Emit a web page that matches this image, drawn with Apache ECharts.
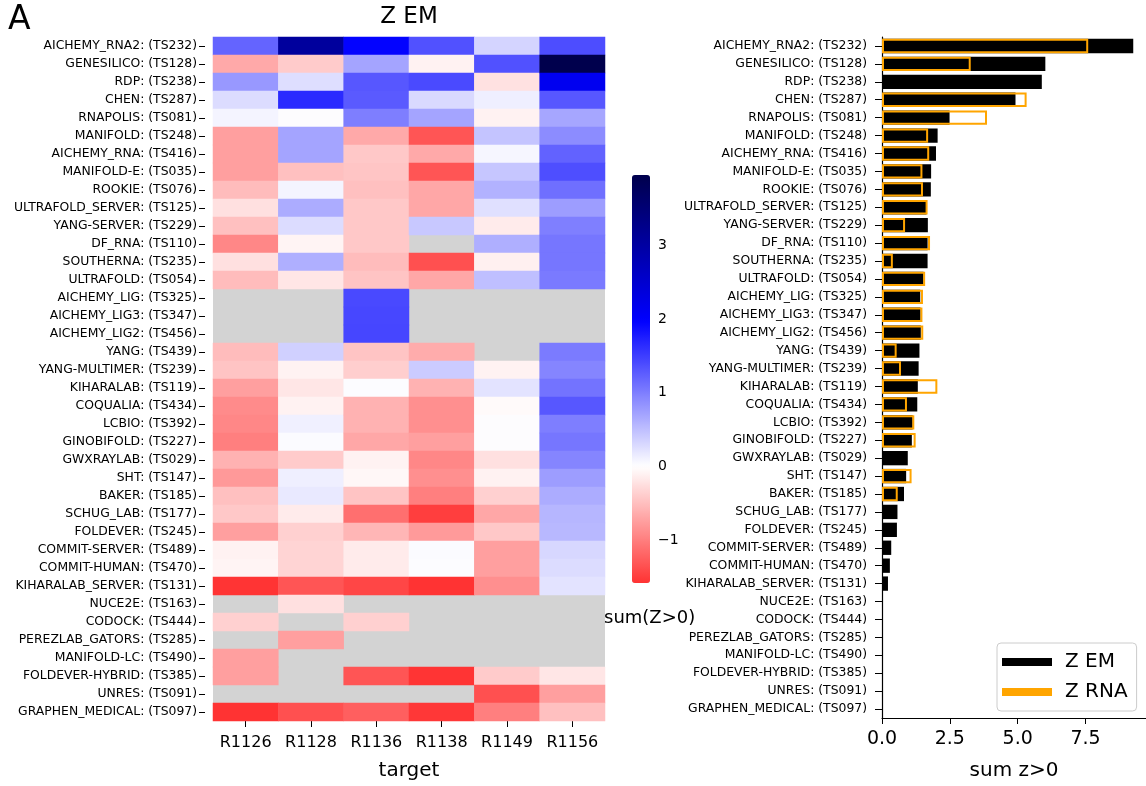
<!DOCTYPE html>
<html>
<head>
<meta charset="utf-8">
<script src="https://cdn.jsdelivr.net/npm/echarts@6/dist/echarts.min.js"></script>
<style>
  html, body { margin: 0; padding: 0; background: #fff; }
  #chart { width: 1146px; height: 786px; }
</style>
</head>
<body>
<div id="chart"></div>
<script>
const teams = [
  'AICHEMY_RNA2: (TS232)', 'GENESILICO: (TS128)', 'RDP: (TS238)', 'CHEN: (TS287)',
  'RNAPOLIS: (TS081)', 'MANIFOLD: (TS248)', 'AICHEMY_RNA: (TS416)', 'MANIFOLD-E: (TS035)',
  'ROOKIE: (TS076)', 'ULTRAFOLD_SERVER: (TS125)', 'YANG-SERVER: (TS229)', 'DF_RNA: (TS110)',
  'SOUTHERNA: (TS235)', 'ULTRAFOLD: (TS054)', 'AICHEMY_LIG: (TS325)', 'AICHEMY_LIG3: (TS347)',
  'AICHEMY_LIG2: (TS456)', 'YANG: (TS439)', 'YANG-MULTIMER: (TS239)', 'KIHARALAB: (TS119)',
  'COQUALIA: (TS434)', 'LCBIO: (TS392)', 'GINOBIFOLD: (TS227)', 'GWXRAYLAB: (TS029)',
  'SHT: (TS147)', 'BAKER: (TS185)', 'SCHUG_LAB: (TS177)', 'FOLDEVER: (TS245)',
  'COMMIT-SERVER: (TS489)', 'COMMIT-HUMAN: (TS470)', 'KIHARALAB_SERVER: (TS131)', 'NUCE2E: (TS163)',
  'CODOCK: (TS444)', 'PEREZLAB_GATORS: (TS285)', 'MANIFOLD-LC: (TS490)', 'FOLDEVER-HYBRID: (TS385)',
  'UNRES: (TS091)', 'GRAPHEN_MEDICAL: (TS097)'
];
const targets = ['R1126', 'R1128', 'R1136', 'R1138', 'R1149', 'R1156'];

// Z EM per target, one value per team (null = no model)
const zR1126 = [1.2, -0.66, 0.8, 0.27, 0.09, -0.74, -0.74, -0.74, -0.52, -0.24, -0.49, -0.93, -0.24, -0.52,
  null, null, null, -0.52, -0.46, -0.74, -0.9, -0.93, -0.99, -0.6, -0.79, -0.49, -0.43, -0.74, -0.1, -0.09,
  -1.57, null, -0.36, null, -0.74, -0.74, null, -1.58];
const zR1128 = [3.05, -0.4, 0.25, 1.65, 0.01, 0.7, 0.7, -0.49, 0.09, 0.64, 0.27, -0.09, 0.62, -0.2,
  null, null, null, 0.36, -0.1, -0.2, -0.1, 0.12, 0.03, -0.4, 0.13, 0.17, -0.16, -0.36, -0.33, -0.33,
  -1.32, -0.24, null, -0.74, null, null, null, -1.36];
const zR1136 = [1.95, 0.7, 1.3, 1.28, 1.0, -0.66, -0.43, -0.45, -0.49, -0.43, -0.43, -0.43, -0.52, -0.46,
  1.41, 1.42, 1.43, -0.46, -0.38, 0.02, -0.6, -0.6, -0.68, -0.1, -0.06, -0.46, -1.11, -0.57, -0.16, -0.16,
  -1.43, null, -0.36, null, null, -1.32, null, -1.24];
const zR1138 = [1.35, -0.1, 1.4, 0.29, 0.7, -1.32, -0.66, -1.32, -0.68, -0.68, 0.43, null, -1.36, -0.68,
  null, null, null, -0.64, 0.4, -0.6, -0.87, -0.87, -0.74, -0.93, -0.87, -0.99, -1.49, -0.78, 0.03, 0.02,
  -1.58, null, null, null, null, -1.57, null, -1.55];
const zR1149 = [0.33, 1.35, -0.23, 0.13, -0.1, 0.46, 0.07, 0.44, 0.6, 0.24, -0.16, 0.62, -0.12, 0.5,
  null, null, null, null, -0.1, 0.22, -0.04, 0.01, 0.01, -0.24, -0.1, -0.36, -0.68, -0.43, -0.74, -0.74,
  -0.87, null, null, null, null, -0.4, -1.36, -0.99];
const zR1156 = [1.38, 3.95, 2.14, 1.3, 0.69, 0.89, 1.22, 1.37, 1.11, 0.76, 0.99, 1.06, 1.06, 1.03,
  null, null, null, 1.02, 0.95, 1.08, 1.3, 1.0, 1.06, 0.95, 0.76, 0.64, 0.57, 0.55, 0.31, 0.27,
  0.22, null, null, null, null, -0.2, -0.74, -0.49];

const sumZEM = [9.26, 6.02, 5.89, 4.92, 2.49, 2.05, 1.99, 1.81, 1.80, 1.64, 1.69, 1.68, 1.68, 1.53,
  1.41, 1.42, 1.43, 1.38, 1.35, 1.32, 1.30, 1.13, 1.10, 0.95, 0.89, 0.81, 0.57, 0.55, 0.34, 0.29,
  0.22, 0, 0, 0, 0, 0, 0, 0];
const sumZRNA = [7.6, 3.27, null, 5.33, 3.87, 1.70, 1.74, 1.49, 1.51, 1.68, 0.85, 1.77, 0.40, 1.59,
  1.51, 1.49, 1.52, 0.54, 0.70, 2.04, 0.92, 1.19, 1.24, null, 1.09, 0.58, null, null, null, null,
  null, null, null, null, null, null, null, null];

const cbarTicks = [-1, 0, 1, 2, 3];
const zMin = -1.58;
const zMax = 3.95;

// seismic_r, centred on 0 (like seaborn center=0)
function seismicR(v) {
  const p = v / zMax;
  let r, g, b;
  if (p < 0) {
    const t = Math.min(-p / 0.5, 1);
    r = 255; g = b = 255 * (1 - t);
  } else if (p <= 0.5) {
    const t = p / 0.5;
    r = g = 255 * (1 - t); b = 255;
  } else {
    const t = (p - 0.5) / 0.5;
    r = g = 0; b = 255 * (1 - 0.7 * t);
  }
  return `rgb(${Math.round(r)},${Math.round(g)},${Math.round(b)})`;
}
const cbarColors = [];
for (let i = 0; i <= 100; i++) cbarColors.push(seismicR(zMin + (zMax - zMin) * i / 100));

const heatData = [];
[zR1126, zR1128, zR1136, zR1138, zR1149, zR1156].forEach((col, x) => {
  col.forEach((v, y) => { if (v !== null) heatData.push([x, y, v]); });
});

const font = 'DejaVu Sans';
const black = { color: '#000' };

const chart = echarts.init(document.getElementById('chart'));
chart.setOption({
  animation: false,
  textStyle: { fontFamily: font, color: '#000' },
  grid: [
    { left: 213, top: 37, width: 392, height: 685, show: true, backgroundColor: '#d3d3d3', borderWidth: 0 },
    { left: 882, top: 37, right: -3, height: 685 },
    { left: 632, top: 175, width: 18, height: 408 }
  ],
  xAxis: [
    {
      type: 'category', gridIndex: 0, data: targets,
      axisLine: { show: false, lineStyle: black },
      axisTick: { show: true, alignWithLabel: true, interval: 0, length: 6, lineStyle: black },
      axisLabel: { interval: 0, fontSize: 16, margin: 14, color: '#000' },
      name: 'target', nameLocation: 'middle', nameGap: 40,
      nameTextStyle: { fontSize: 20, color: '#000' }
    },
    {
      type: 'value', gridIndex: 1, min: 0, max: 9.73,
      axisLine: { show: true, lineStyle: { color: '#000', width: 1.2 } },
      axisTick: { show: true, length: 6, customValues: [0, 2.5, 5, 7.5], lineStyle: black },
      axisLabel: { customValues: [0, 2.5, 5, 7.5], fontSize: 19, margin: 12, color: '#000',
        formatter: v => v.toFixed(1) },
      splitLine: { show: false },
      name: 'sum z>0', nameLocation: 'middle', nameGap: 43,
      nameTextStyle: { fontSize: 20, color: '#000' }
    },
    { type: 'value', gridIndex: 2, show: false, min: 0, max: 1 }
  ],
  yAxis: [
    {
      type: 'category', gridIndex: 0, data: teams, inverse: true, offset: 8,
      axisLine: { show: false, lineStyle: black },
      axisTick: { show: true, alignWithLabel: true, interval: 0, length: 6, lineStyle: black },
      axisLabel: { interval: 0, fontSize: 12.4, margin: 8, color: '#000' }
    },
    {
      type: 'category', gridIndex: 1, data: teams, inverse: true,
      axisLine: { show: true, lineStyle: { color: '#000', width: 1.2 } },
      axisTick: { show: true, alignWithLabel: true, interval: 0, length: 7, lineStyle: black },
      axisLabel: { interval: 0, fontSize: 12.4, margin: 15, color: '#000' }
    },
    {
      type: 'value', gridIndex: 2, min: zMin, max: zMax, position: 'right',
      axisLine: { show: false },
      axisTick: { show: true, length: 5, customValues: cbarTicks, lineStyle: black },
      axisLabel: { customValues: cbarTicks, fontSize: 14, margin: 8, color: '#000',
        formatter: v => String(v).replace('-', '\u2212') },
      splitLine: { show: false }
    }
  ],
  visualMap: {
    type: 'continuous', seriesIndex: 0, min: zMin, max: zMax,
    calculable: false, orient: 'vertical', left: 632, top: 175,
    itemWidth: 18, itemHeight: 408, padding: 0,
    inRange: { color: cbarColors }
  },
  legend: {
    orient: 'vertical', left: 997, top: 643,
    padding: [9, 9, 9, 5], itemWidth: 50, itemHeight: 8, itemGap: 10,
    borderColor: '#cccccc', borderWidth: 1, borderRadius: 4, backgroundColor: '#fff',
    textStyle: { fontSize: 20, color: '#000', padding: [0, 0, 0, 8] },
    data: [
      { name: 'Z EM', icon: 'rect', itemStyle: { color: '#000', borderWidth: 0 } },
      { name: 'Z RNA', icon: 'rect', itemStyle: { color: '#ffa500', borderWidth: 0 } }
    ]
  },
  graphic: [
    { type: 'text', x: 8, y: 20, style: { text: 'A', font: '33px "DejaVu Sans"', fill: '#000',
      textAlign: 'left', textVerticalAlign: 'middle', align: 'left', verticalAlign: 'middle' } },
    { type: 'text', x: 409, y: 17, style: { text: 'Z EM', font: '23px "DejaVu Sans"', fill: '#000',
      textAlign: 'center', textVerticalAlign: 'middle', align: 'center', verticalAlign: 'middle' } },
    { type: 'text', x: 604, y: 618, style: { text: 'sum(Z>0)', font: '18px "DejaVu Sans"', fill: '#000',
      textAlign: 'left', textVerticalAlign: 'middle', align: 'left', verticalAlign: 'middle' } }
  ],
  series: [
    {
      type: 'heatmap', xAxisIndex: 0, yAxisIndex: 0, data: heatData,
      emphasis: { disabled: true }
    },
    {
      name: 'Z EM', type: 'bar', xAxisIndex: 1, yAxisIndex: 1, data: sumZEM,
      barWidth: '80%', z: 2,
      itemStyle: { color: '#000' }
    },
    {
      name: 'Z RNA', type: 'bar', xAxisIndex: 1, yAxisIndex: 1, data: sumZRNA,
      barWidth: '80%', barGap: '-100%', z: 3,
      itemStyle: { color: 'rgba(0,0,0,0)', borderColor: '#ffa500', borderWidth: 2 }
    }
  ]
});
</script>
</body>
</html>
